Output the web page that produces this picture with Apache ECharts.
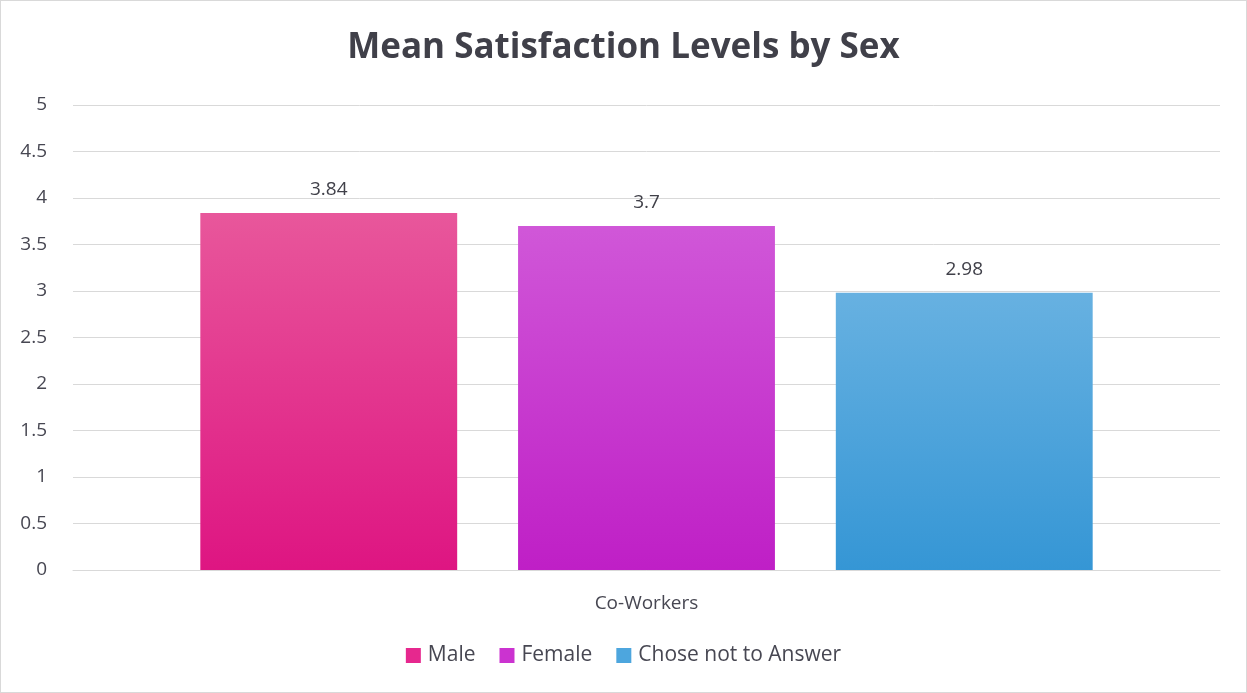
<!DOCTYPE html>
<html>
<head>
<meta charset="utf-8">
<script src="https://cdn.jsdelivr.net/npm/echarts@6/dist/echarts.min.js"></script>
<style>
html,body{margin:0;padding:0;background:#fff;}
#chart{width:1247px;height:693px;box-sizing:border-box;border:1px solid #D9D9D9;}
</style>
</head>
<body>
<div id="chart"></div>
<script>
const categories = ['Co-Workers'];
const seriesNames = ['Male', 'Female', 'Chose not to Answer'];
const maleValues = [3.84];
const femaleValues = [3.7];
const choseValues = [2.98];
const yTicks = [0, 0.5, 1, 1.5, 2, 2.5, 3, 3.5, 4, 4.5, 5];

const chart = echarts.init(document.getElementById('chart'), null, {renderer: 'canvas'});
function grad(top, bottom) {
  return new echarts.graphic.LinearGradient(0, 0, 0, 1, [
    {offset: 0, color: top}, {offset: 1, color: bottom}
  ]);
}
const fontFam = '"Open Sans", "Noto Sans", sans-serif';
const dataSets = [maleValues, femaleValues, choseValues];
const gradients = [
  ['#E8579B', '#DE1582'],
  ['#D057D8', '#BF1FC6'],
  ['#67B1E1', '#3596D5']
];
const legendColors = ['#E6288E', '#CB33D0', '#4DA6DE'];
chart.setOption({
  animation: false,
  title: {
    text: 'Mean Satisfaction Levels by Sex',
    left: 'center', top: 25,
    textStyle: {fontFamily: fontFam, fontSize: 35, fontWeight: 'bold', color: '#404049'}
  },
  legend: {
    bottom: 21, left: 'center',
    itemWidth: 15, itemHeight: 15, itemGap: 24,
    icon: 'rect',
    textStyle: {fontFamily: fontFam, fontSize: 21, color: '#474752', padding: [0, 0, 0, 2]},
    data: seriesNames.map((n, i) => ({name: n, itemStyle: {color: legendColors[i]}}))
  },
  grid: {left: 72, right: 26, top: 104, bottom: 122, containLabel: false},
  xAxis: {
    type: 'category', data: categories,
    axisLine: {lineStyle: {color: '#D9D9D9', width: 1}},
    axisTick: {show: false},
    axisLabel: {fontFamily: fontFam, fontSize: 19, color: '#474752', margin: 24},
    data: categories
  },
  yAxis: {
    type: 'value', min: 0, max: 5, interval: 0.5,
    axisLine: {show: false}, axisTick: {show: false},
    splitLine: {lineStyle: {color: '#D9D9D9', width: 1}},
    axisLabel: {fontFamily: fontFam, fontSize: 19, color: '#474752', margin: 26,
      formatter: v => String(v)}
  },
  series: seriesNames.map((n, i) => ({
    name: n, type: 'bar', data: dataSets[i],
    barGap: '23.7%', barCategoryGap: '22.2%',
    itemStyle: {color: grad(gradients[i][0], gradients[i][1])},
    label: {show: true, position: 'top', distance: 14,
      fontFamily: fontFam, fontSize: 19, color: '#404049'}
  }))
});
</script>
</body>
</html>
